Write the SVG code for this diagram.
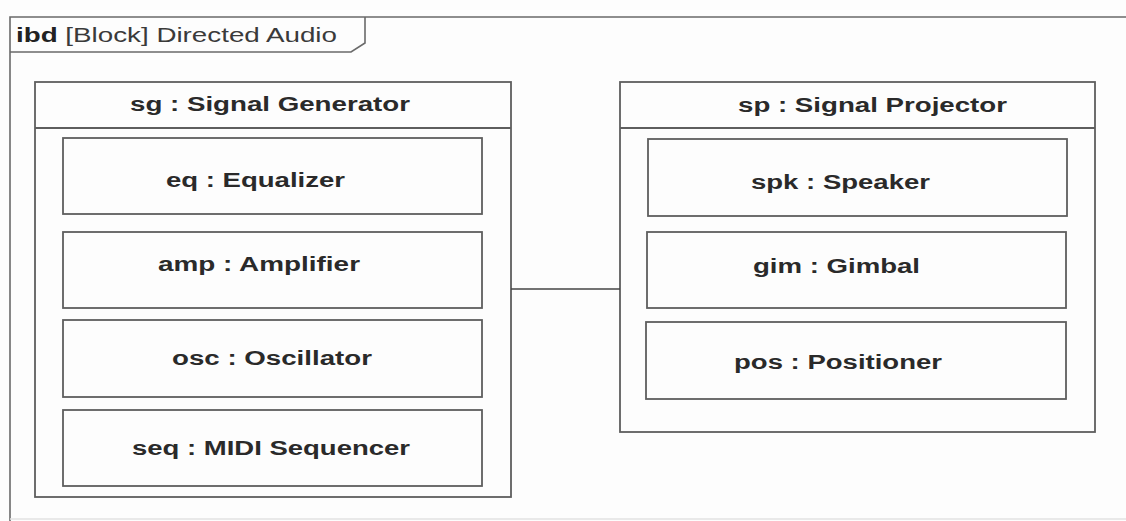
<svg xmlns="http://www.w3.org/2000/svg" width="1126" height="521" viewBox="0 0 1126 521">
<style>
.bx{fill:none;stroke:#5e5e5e;stroke-width:1.8}
.fr{fill:none;stroke:#6a6a6a;stroke-width:1.6}
.lb{font-family:"Liberation Sans",Arial,sans-serif;font-size:20px;font-weight:bold;fill:#2a2a2a}
.tt{font-family:"Liberation Sans",Arial,sans-serif;font-size:20px;fill:#3a3a3a}
.cn{fill:none;stroke:#444;stroke-width:1.6}
</style>
<rect width="1126" height="521" fill="#fdfdfd"/>
<g id="frame">
<path class="fr" d="M1126,17 H10 V521"/>
<path d="M10,519 H1126" fill="none" stroke="#e2e2e2" stroke-width="1.5"/>
<path class="fr" d="M10,52 H351 L365,43 V17"/>
<text class="tt" x="16" y="42" textLength="321" lengthAdjust="spacingAndGlyphs"><tspan font-weight="bold" fill="#222">ibd</tspan> [Block] Directed Audio</text>
</g>
<g id="sg">
<rect class="bx" x="35" y="82" width="476" height="415"/>
<line class="bx" x1="35" y1="128" x2="511" y2="128"/>
<text class="lb" x="130" y="111" textLength="280" lengthAdjust="spacingAndGlyphs">sg : Signal Generator</text>
</g>
<g id="eq">
<rect class="bx" x="63" y="138" width="419" height="76"/>
<text class="lb" x="166" y="187" textLength="179" lengthAdjust="spacingAndGlyphs">eq : Equalizer</text>
</g>
<g id="amp">
<rect class="bx" x="63" y="232" width="419" height="76"/>
<text class="lb" x="158" y="271" textLength="202" lengthAdjust="spacingAndGlyphs">amp : Amplifier</text>
</g>
<g id="osc">
<rect class="bx" x="63" y="320" width="419" height="77"/>
<text class="lb" x="172" y="365" textLength="200" lengthAdjust="spacingAndGlyphs">osc : Oscillator</text>
</g>
<g id="seq">
<rect class="bx" x="63" y="410" width="419" height="76"/>
<text class="lb" x="132" y="455" textLength="278" lengthAdjust="spacingAndGlyphs">seq : MIDI Sequencer</text>
</g>
<g id="sp">
<rect class="bx" x="620" y="82" width="475" height="350"/>
<line class="bx" x1="620" y1="128" x2="1095" y2="128"/>
<text class="lb" x="738" y="112" textLength="269" lengthAdjust="spacingAndGlyphs">sp : Signal Projector</text>
</g>
<g id="spk">
<rect class="bx" x="648" y="139" width="419" height="77"/>
<text class="lb" x="751" y="189" textLength="179" lengthAdjust="spacingAndGlyphs">spk : Speaker</text>
</g>
<g id="gim">
<rect class="bx" x="647" y="232" width="419" height="76"/>
<text class="lb" x="753" y="273" textLength="167" lengthAdjust="spacingAndGlyphs">gim : Gimbal</text>
</g>
<g id="pos">
<rect class="bx" x="646" y="322" width="420" height="77"/>
<text class="lb" x="734" y="369" textLength="208" lengthAdjust="spacingAndGlyphs">pos : Positioner</text>
</g>
<g id="connectors">
<line class="cn" x1="511" y1="289" x2="620" y2="289"/>
</g>
</svg>
